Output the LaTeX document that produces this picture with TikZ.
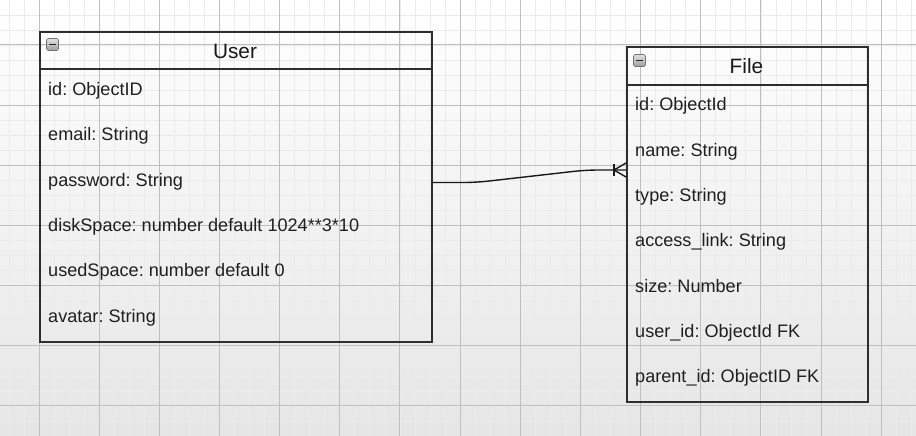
\documentclass[tikz,border=0pt]{standalone}
\usepackage{fontspec}
\setmainfont{Liberation Sans}
\frenchspacing
\begin{document}
\begin{tikzpicture}[x=1pt,y=-1pt,
  gminor/.style={draw=black!8,line width=0.8pt},
  gmajor/.style={draw=black!25,line width=1pt},
  entity/.style={draw=black!82,line width=1.8pt,inner sep=0pt,anchor=north west},
  sep/.style={draw=black!82,line width=1.8pt},
  title/.style={anchor=base,inner sep=0pt,text=black!90,font=\fontsize{20.8}{24}\selectfont},
  field/.style={anchor=base west,inner sep=0pt,text=black!88,font=\fontsize{18.1}{21}\selectfont},
  collapse/.style={draw=black!55,line width=0.6pt,rounded corners=1.5pt,
    top color=black!12,bottom color=black!38,minimum size=12pt,inner sep=0pt},
  relation/.style={draw=black!90,line width=1.4pt},
]
\useasboundingbox (0,0) rectangle (916,436);
% canvas with a soft grey fade towards the bottom
\shade[top color=white,bottom color=black!10] (0,0) rectangle (916,436);
% drawing grid: fine lines every 15, strong lines every 60
\foreach \i in {0,...,61} \draw[gminor] ({8.9+\i*15.04},0) -- ({8.9+\i*15.04},436);
\foreach \i in {0,...,29} \draw[gminor] (0,{-0.1+\i*15.04}) -- (916,{-0.1+\i*15.04});
\foreach \i in {0,...,14} \draw[gmajor] ({39+\i*60.16},0) -- ({39+\i*60.16},436);
\foreach \i in {-1,...,7} \draw[gmajor] (0,{45+\i*60.16}) -- (916,{45+\i*60.16});

% ---- User entity ----
\node[entity,minimum width=392pt,minimum height=310pt] (user) at (39,31) {};
\draw[sep] (39,69) -- (431,69);
\node[collapse] (ucol) at (52.5,44.5) {};
\draw[black!85,line width=1.4pt] (ucol.center) ++(-3.5,0) -- ++(7,0);
\node[title] (utitle) at (235,58.3) {User};
\node[field] (u1) at (48,95.5) {id: ObjectID};
\node[field] (u2) at (48,140.8) {email: String};
\node[field] (u3) at (48,186.1) {password: String};
\node[field] (u4) at (48,231.4) {diskSpace: number default 1024**3*10};
\node[field] (u5) at (48,276.7) {usedSpace: number default 0};
\node[field] (u6) at (48,322) {avatar: String};

% ---- File entity ----
\node[entity,minimum width=241pt,minimum height=355pt] (file) at (626,46) {};
\draw[sep] (626,85) -- (867,85);
\node[collapse] (fcol) at (639.5,60.5) {};
\draw[black!85,line width=1.4pt] (fcol.center) ++(-3.5,0) -- ++(7,0);
\node[title] (ftitle) at (746.5,73.3) {File};
\node[field] (f1) at (635,110.7) {id: ObjectId};
\node[field] (f2) at (635,156) {name: String};
\node[field] (f3) at (635,201.4) {type: String};
\node[field] (f4) at (635,246.7) {access\_link: String};
\node[field] (f5) at (635,292) {size: Number};
\node[field] (f6) at (635,337.4) {user\_id: ObjectId FK};
\node[field] (f7) at (635,382.7) {parent\_id: ObjectID FK};

% ---- relation: one user owns many files ----
\coordinate (uport) at (user.east |- 0,182.5);
\coordinate (fport) at (file.west |- 0,170);
\coordinate (foot) at (614,170);
\draw[relation,rounded corners=12pt] (uport) -- (476,182.5) -- (586,170) -- (fport);
\draw[relation] (foot) ++(0,-6) -- ++(0,12);
\draw[relation] (fport) ++(0,-7) -- (foot) -- ++(12,7);
\end{tikzpicture}
\end{document}
